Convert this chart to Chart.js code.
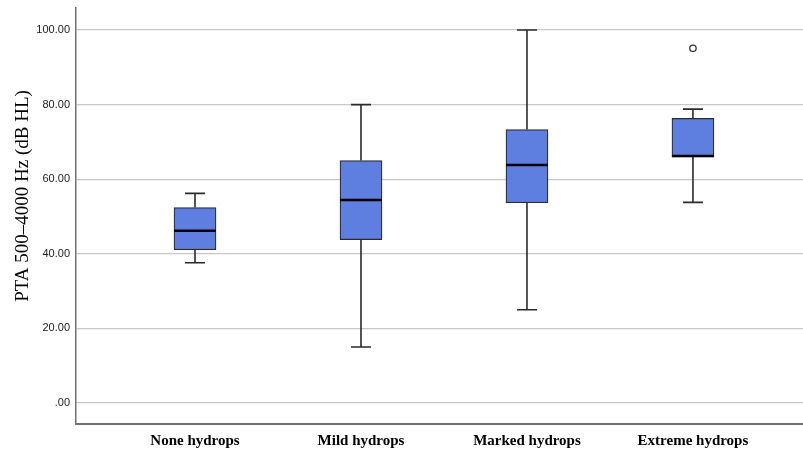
<!DOCTYPE html>
<html>
<head>
<meta charset="utf-8">
<script src="https://cdn.jsdelivr.net/npm/chart.js@4.4.1/dist/chart.umd.min.js"></script>
<style>
  body { margin: 0; background: #fff; }
  #wrap { width: 803px; height: 452px; position: relative; }
</style>
</head>
<body>
<div id="wrap"><canvas id="myChart"></canvas></div>
<script>
// group labels and box plot values
const groups = ['None hydrops', 'Mild hydrops', 'Marked hydrops', 'Extreme hydrops'];
const whiskerLow = [37.6, 15.0, 25.0, 53.8];
const q1 = [41.1, 43.8, 53.7, 66.0];
const median = [46.2, 54.4, 63.8, 66.2];
const q3 = [52.4, 65.0, 73.3, 76.3];
const whiskerHigh = [56.2, 80.0, 100.0, 78.8];
const outliers = [{ group: 4, value: 95.1 }];
const yTicks = [0, 20, 40, 60, 80, 100];
const yTitle = 'PTA 500–4000 Hz (dB HL)';

const boxes = groups.map((g, i) => ({ x: i + 1, y: [q1[i], q3[i]] }));
const outlierPoints = outliers.map(o => ({ x: o.group, y: o.value }));

// whiskers, caps and median lines, placed with the chart's own scales
const boxPlotLines = {
    id: 'boxPlotLines',
    afterDatasetsDraw(chart) {
        const ctx = chart.ctx;
        const xs = chart.scales.x;
        const ys = chart.scales.y;
        ctx.save();
        groups.forEach((g, i) => {
            const cx = xs.getPixelForValue(i + 1);
            const yLo = ys.getPixelForValue(whiskerLow[i]);
            const yQ1 = ys.getPixelForValue(q1[i]);
            const yQ3 = ys.getPixelForValue(q3[i]);
            const yHi = ys.getPixelForValue(whiskerHigh[i]);
            const yMed = ys.getPixelForValue(median[i]);
            ctx.strokeStyle = '#2b2b2b';
            ctx.lineWidth = 1.6;
            ctx.beginPath();
            ctx.moveTo(cx, yQ3); ctx.lineTo(cx, yHi);
            ctx.moveTo(cx - 10, yHi); ctx.lineTo(cx + 10, yHi);
            ctx.moveTo(cx, yQ1); ctx.lineTo(cx, yLo);
            ctx.moveTo(cx - 10, yLo); ctx.lineTo(cx + 10, yLo);
            ctx.stroke();
            // median
            ctx.strokeStyle = '#000';
            ctx.lineWidth = 2.5;
            ctx.beginPath();
            ctx.moveTo(cx - 21, yMed); ctx.lineTo(cx + 21, yMed);
            ctx.stroke();
        });
        ctx.restore();
    },
    // y title sits a bit above the middle of the axis, like the original
    afterDraw(chart) {
        const ctx = chart.ctx;
        ctx.save();
        ctx.translate(23, 196);
        ctx.rotate(-Math.PI / 2);
        ctx.font = '19px "Liberation Serif"';
        ctx.fillStyle = '#000';
        ctx.textAlign = 'center';
        ctx.textBaseline = 'middle';
        ctx.fillText(yTitle, 0, 0);
        ctx.restore();
    }
};

const myChart = new Chart(document.getElementById('myChart').getContext('2d'), {
    type: 'bar',
    data: {
        datasets: [{
            data: boxes,
            backgroundColor: '#5f7fe0',
            borderColor: '#2b2b2b',
            borderWidth: 1.2,
            borderSkipped: false,
            barThickness: 42
        }, {
            type: 'scatter',
            data: outlierPoints,
            pointRadius: 3.2,
            pointBackgroundColor: '#fff',
            pointBorderColor: '#333',
            pointBorderWidth: 1.3
        }]
    },
    options: {
        responsive: true,
        maintainAspectRatio: false,
        animation: false,
        layout: { autoPadding: false, padding: { top: 8, left: 0, right: 0, bottom: 0 } },
        plugins: {
            legend: { display: false },
            tooltip: { enabled: false }
        },
        scales: {
            x: {
                type: 'linear',
                offset: false,
                min: 0.283,
                max: 4.663,
                afterBuildTicks: scale => { scale.ticks = groups.map((g, i) => ({ value: i + 1 })); },
                afterFit: scale => {
                    scale.height = 28;
                    scale.paddingLeft = 0;
                    scale.paddingRight = 0;
                },
                grid: { display: false, drawTicks: false },
                border: { display: true, color: '#707070', width: 2 },
                ticks: {
                    padding: 8,
                    color: '#000',
                    maxRotation: 0,
                    autoSkip: false,
                    font: { family: 'Liberation Serif', size: 15, weight: 'bold' },
                    callback: v => groups[v - 1] || ''
                }
            },
            y: {
                min: -5.63,
                max: 105.9,
                afterBuildTicks: scale => { scale.ticks = yTicks.map(v => ({ value: v })); },
                afterFit: scale => {
                    scale.width = 76;
                    scale.paddingTop = 0;
                    scale.paddingBottom = 0;
                },
                grid: { color: '#c8c8c8', lineWidth: 1.2, drawTicks: false },
                border: { display: true, color: '#707070', width: 1.5 },
                ticks: {
                    padding: 6,
                    color: '#222',
                    font: { family: 'Liberation Sans', size: 11 },
                    callback: v => v === 0 ? '.00' : v.toFixed(2)
                },
                title: { display: false }
            }
        }
    },
    plugins: [boxPlotLines]
});
</script>
</body>
</html>
